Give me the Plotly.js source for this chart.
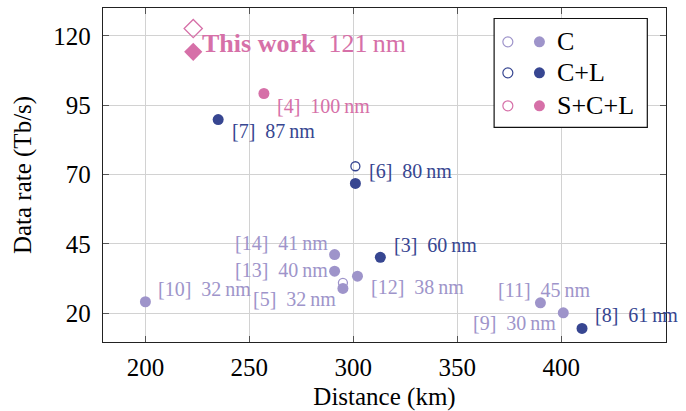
<!DOCTYPE html>
<html>
<head>
<meta charset="utf-8">
<script src="https://cdn.plot.ly/plotly-3.0.1.min.js"></script>
<style>html,body{margin:0;padding:0;background:#fff;}#chart{width:686px;height:411px;}</style>
</head>
<body>
<div id="chart"></div>
<script>
// ---- data ----
const cRefs = ['[10]', '[5]', '[13]', '[14]', '[12]', '[11]', '[9]'];
const cDist = [200, 295, 291, 291, 302, 390, 401];
const cRate = [24.2, 29.0, 35.2, 41.2, 33.4, 23.8, 20.2];
const cBw = [32, 32, 40, 41, 38, 45, 30];

const clRefs = ['[3]', '[6]', '[7]', '[8]'];
const clDist = [313, 301, 235, 410];
const clRate = [40.2, 66.8, 89.8, 14.6];
const clBw = [60, 80, 87, 61];

const sclRefs = ['[4]'];
const sclDist = [257];
const sclRate = [99.2];
const sclBw = [100];

const thisRef = ['This work'];
const thisDist = [223];
const thisRate = [114.2];
const thisBw = [121];

// open markers (second value for some works)
const cOpenDist = [295];
const cOpenRate = [31.0];
const clOpenDist = [301];
const clOpenRate = [73.0];
const thisOpenDist = [223];
const thisOpenRate = [122.6];

const legendNames = ['C', 'C+L', 'S+C+L'];
const xTicks = [200, 250, 300, 350, 400];
const yTicks = [20, 45, 70, 95, 120];

// ---- styles ----
const colC = 'rgb(158,148,202)';
const colCL = 'rgb(55,70,145)';
const colSCL = 'rgb(214,112,168)';
const cols = [colC, colCL, colSCL];
const serif = 'Liberation Serif, Times New Roman, serif';

// label offsets in pixels relative to the point
const labelPos = {
  '[10]': {dx: 11, dy: 13, anchor: 'left'},
  '[5]': {dx: -5, dy: -11, anchor: 'right'},
  '[13]': {dx: -5, dy: 1, anchor: 'right'},
  '[14]': {dx: -5, dy: 12, anchor: 'right'},
  '[12]': {dx: 12, dy: -11, anchor: 'left'},
  '[11]': {dx: 4, dy: 13, anchor: 'center'},
  '[9]': {dx: -5, dy: -10, anchor: 'right'},
  '[3]': {dx: 12, dy: 12, anchor: 'left'},
  '[6]': {dx: 12, dy: 12, anchor: 'left'},
  '[7]': {dx: 12, dy: -11, anchor: 'left'},
  '[8]': {dx: 11, dy: 13, anchor: 'left'},
  '[4]': {dx: 11, dy: -12, anchor: 'left'},
  'This work': {dx: 7, dy: 8, anchor: 'left'}
};

const traces = [
  {x: cOpenDist, y: cOpenRate, mode: 'markers', type: 'scatter', marker: {symbol: 'circle-open', size: 9, color: colC, line: {width: 1.3}}},
  {x: clOpenDist, y: clOpenRate, mode: 'markers', type: 'scatter', marker: {symbol: 'circle-open', size: 9, color: colCL, line: {width: 1.3}}},
  {x: thisOpenDist, y: thisOpenRate, mode: 'markers', type: 'scatter', marker: {symbol: 'diamond-open', size: 14, color: colSCL, line: {width: 1.3}}},
  {x: cDist, y: cRate, mode: 'markers', type: 'scatter', marker: {symbol: 'circle', size: 11, color: colC}},
  {x: clDist, y: clRate, mode: 'markers', type: 'scatter', marker: {symbol: 'circle', size: 11, color: colCL}},
  {x: sclDist, y: sclRate, mode: 'markers', type: 'scatter', marker: {symbol: 'circle', size: 11, color: colSCL}},
  {x: thisDist, y: thisRate, mode: 'markers', type: 'scatter', marker: {symbol: 'diamond', size: 14, color: colSCL}}
];

const annotations = [];
function addLabels(refs, xs, ys, bws, color, size) {
  refs.forEach((r, i) => {
    const p = labelPos[r];
    let txt;
    if (r === 'This work') txt = '<b>This work</b>\u00a0 ' + bws[i] + '\u2009nm';
    else txt = r + '\u00a0\u00a0' + bws[i] + '\u2009nm';
    annotations.push({x: xs[i], y: ys[i], xref: 'x', yref: 'y', text: txt, showarrow: false,
      xanchor: p.anchor, yanchor: 'middle', xshift: p.dx, yshift: p.dy,
      font: {family: serif, size: size, color: color}});
  });
}
addLabels(cRefs, cDist, cRate, cBw, colC, 20);
addLabels(clRefs, clDist, clRate, clBw, colCL, 20);
addLabels(sclRefs, sclDist, sclRate, sclBw, colSCL, 20);
addLabels(thisRef, thisDist, thisRate, thisBw, colSCL, 26);

// manual legend
const shapes = [{type: 'rect', xref: 'paper', yref: 'paper', x0: 0.6947, x1: 0.9668, y0: 0.6424, y1: 0.9686,
  line: {color: '#111', width: 1.2}, fillcolor: 'white', layer: 'above'}];
const rowY = [0.8986, 0.8058, 0.7071];
legendNames.forEach((n, i) => {
  shapes.push({type: 'circle', xref: 'paper', yref: 'paper', xsizemode: 'pixel', ysizemode: 'pixel',
    xanchor: 0.7191, yanchor: rowY[i], x0: -5, x1: 5, y0: -5, y1: 5, line: {color: cols[i], width: 1.2}, fillcolor: 'rgba(0,0,0,0)', layer: 'above'});
  shapes.push({type: 'circle', xref: 'paper', yref: 'paper', xsizemode: 'pixel', ysizemode: 'pixel',
    xanchor: 0.7752, yanchor: rowY[i], x0: -5.5, x1: 5.5, y0: -5.5, y1: 5.5, line: {width: 0}, fillcolor: cols[i], layer: 'above'});
  annotations.push({xref: 'paper', yref: 'paper', x: 0.8032, y: rowY[i], text: n, showarrow: false,
    xanchor: 'left', yanchor: 'middle', font: {family: serif, size: 26, color: '#000'}});
});

const axisCommon = {
  showgrid: true, gridcolor: 'rgb(210,210,210)', gridwidth: 1,
  ticks: 'inside', ticklen: 6, tickcolor: '#555', tickwidth: 1,
  showline: true, linecolor: '#222', linewidth: 1.2, mirror: 'ticks',
  zeroline: false, tickfont: {family: serif, size: 25, color: '#000'}
};

const layout = {
  width: 686, height: 411,
  margin: {l: 103, r: 20, t: 8, b: 69},
  paper_bgcolor: '#fff', plot_bgcolor: '#fff',
  showlegend: false,
  xaxis: Object.assign({}, axisCommon, {range: [179.6, 450.4], tickvals: xTicks, ticktext: xTicks.map(String), ticklabelstandoff: 3,
    title: {text: 'Distance (km)', font: {family: serif, size: 25, color: '#000'}, standoff: 9}}),
  yaxis: Object.assign({}, axisCommon, {range: [9.7, 130], tickvals: yTicks, ticktext: yTicks.map(String), ticklabelstandoff: 6,
    title: {text: 'Data rate (Tb/s)', font: {family: serif, size: 25, color: '#000'}, standoff: 14}}),
  annotations: annotations,
  shapes: shapes
};

Plotly.newPlot('chart', traces, layout, {displayModeBar: false, staticPlot: true});
</script>
</body>
</html>
